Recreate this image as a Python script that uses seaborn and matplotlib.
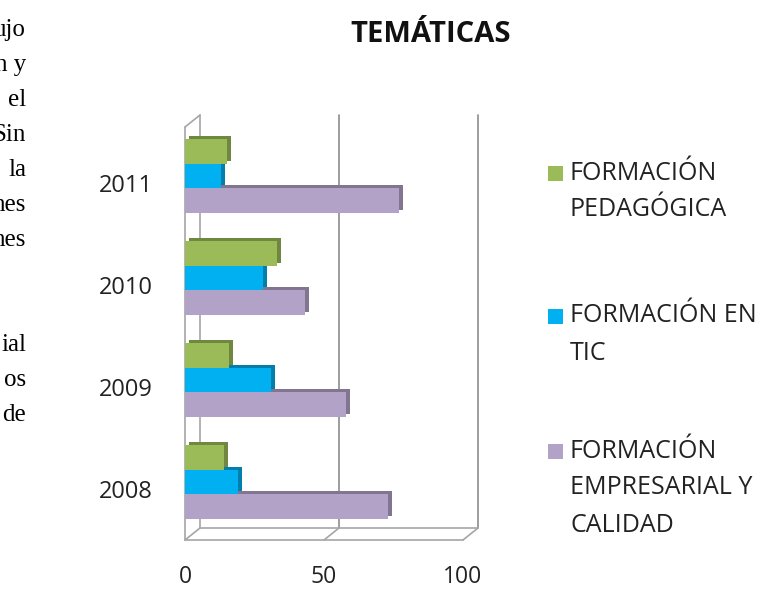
# =========================
# Imports
# =========================
import numpy as np
import pandas as pd
import matplotlib
matplotlib.use("Agg")
import matplotlib.pyplot as plt
import matplotlib.colors as mcolors
import matplotlib.transforms as mtransforms
from matplotlib.patches import Rectangle
import seaborn as sns

# =========================
# Data
# =========================
YEARS = ["2008", "2009", "2010", "2011"]
SERIES = ["FORMACIÓN\nPEDAGÓGICA", "FORMACIÓN EN\nTIC", "FORMACIÓN\nEMPRESARIAL Y\nCALIDAD"]
PEDAGOGICA = [14, 16, 33, 15]
TIC = [19, 31, 28, 13]
EMPRESARIAL = [73, 58, 43, 77]
COLORS = ["#9BBB59", "#00B0F0", "#B3A2C7"]
X_TICKS = [0, 50, 100]
TITLE = "TEMÁTICAS"

# cut-off words of the page text left of the chart (line index, word)
PAGE_TEXT = [(0, "ujo"), (1, "n y"), (2, "el"), (3, "Sin"), (4, "la"), (5, "nes"),
             (6, "nes"), (9, "ial"), (10, "os"), (11, "de")]

# =========================
# Global Config
# =========================
W, H = 757, 592
sns.set_theme(style="white")
plt.rcParams["font.family"] = ["Open Sans", "DejaVu Sans"]
TEXT_COLOR = "#222222"
FRAME_COLOR = "#A6A6A6"
GRID_COLOR = "#8C8C8C"
DEPTH = (15, 12)  # px offset of the back wall


def build_frame():
    rows = []
    for name, vals in zip(SERIES, [PEDAGOGICA, TIC, EMPRESARIAL]):
        for y, v in zip(YEARS, vals):
            rows.append({"año": y, "serie": name, "valor": v})
    return pd.DataFrame(rows)


def draw_walls(fig, ax):
    back = mtransforms.offset_copy(ax.transData, fig, x=DEPTH[0], y=DEPTH[1], units="dots")
    y_bot, y_top = ax.get_ylim()
    kw = dict(clip_on=False, lw=1.2, zorder=0.5)
    # back wall gridlines
    for x in X_TICKS:
        col = FRAME_COLOR if x == 0 else GRID_COLOR
        ax.plot([x, x], [y_bot, y_top], color=col, transform=back, **kw)
    # front left edge + floor
    ax.plot([0, 0], [y_bot, y_top], color=FRAME_COLOR, **kw)
    ax.plot([0, 100], [y_bot, y_bot], color=FRAME_COLOR, **kw)
    ax.plot([0, 100], [y_bot, y_bot], color=FRAME_COLOR, transform=back, **kw)
    for x in X_TICKS:
        p0 = ax.transData.transform((x, y_bot))
        p1 = p0 + np.array(DEPTH)
        ax.plot([p0[0], p1[0]], [p0[1], p1[1]], color=FRAME_COLOR,
                transform=None, **kw)
    p0 = ax.transData.transform((0, y_top))
    p1 = p0 + np.array(DEPTH)
    ax.plot([p0[0], p1[0]], [p0[1], p1[1]], color=FRAME_COLOR, transform=None, **kw)


def add_depth(fig, ax):
    # darker copy of each bar shifted back, gives the extruded 3D look
    shift = mtransforms.offset_copy(ax.transData, fig, x=4, y=3, units="dots")
    for p in list(ax.patches):
        fc = np.array(mcolors.to_rgb(p.get_facecolor()))
        side = Rectangle(p.get_xy(), p.get_width(), p.get_height(),
                         facecolor=fc * 0.72, edgecolor="none",
                         transform=shift, zorder=p.get_zorder() - 0.1)
        ax.add_patch(side)


def plot_tematicas():
    df = build_frame()
    fig = plt.figure(figsize=(W / 100, H / 100), dpi=100)
    ax = fig.add_axes([185 / W, 1 - 540 / H, 278 / W, 413 / H])

    sns.barplot(data=df, x="valor", y="año", hue="serie", order=YEARS[::-1],
                hue_order=SERIES, palette=COLORS, orient="h", width=0.72,
                saturation=1, legend=False, ax=ax, zorder=2,
                linewidth=0, edgecolor="none")
    add_depth(fig, ax)

    ax.set_xlim(0, 100)
    ax.set_ylim(3.57, -0.48)
    ax.set_xticks(X_TICKS)
    ax.set_xlabel("")
    ax.set_ylabel("")
    ax.tick_params(axis="x", length=0, pad=18, labelsize=16.5, colors=TEXT_COLOR)
    ax.tick_params(axis="y", length=0, pad=23, labelsize=17, colors=TEXT_COLOR)
    down = mtransforms.ScaledTranslation(0, -7 / 100, fig.dpi_scale_trans)
    for lab in ax.get_yticklabels():
        lab.set_transform(lab.get_transform() + down)
    ax.grid(False)
    for s in ax.spines.values():
        s.set_visible(False)
    draw_walls(fig, ax)

    # title
    fig.text(431 / W, 1 - 34 / H, TITLE, ha="center", va="center",
             fontsize=21, weight="bold", color="#111111")

    # legend, square next to first line of each label
    starts = [173, 316, 451]
    for name, col, y0 in zip(SERIES, COLORS, starts):
        fig.patches.append(Rectangle((548 / W, 1 - (y0 + 8) / H), 15 / W, 15 / H,
                                     facecolor=col, edgecolor="none",
                                     transform=fig.transFigure, figure=fig))
        for i, line in enumerate(name.split("\n")):
            fig.text(570 / W, 1 - (y0 + 37 * i) / H, line, ha="left", va="center",
                     fontsize=18, color=TEXT_COLOR)

    # page text cut off at the left border
    for i, word in PAGE_TEXT:
        fig.text(26 / W, 1 - (36 + 35 * i) / H, word, ha="right", va="baseline",
                 fontsize=18, family=["Liberation Serif", "DejaVu Serif"],
                 color="#000000")

    fig.savefig("out.png", dpi=100)
    plt.close(fig)


if __name__ == "__main__":
    plot_tematicas()
